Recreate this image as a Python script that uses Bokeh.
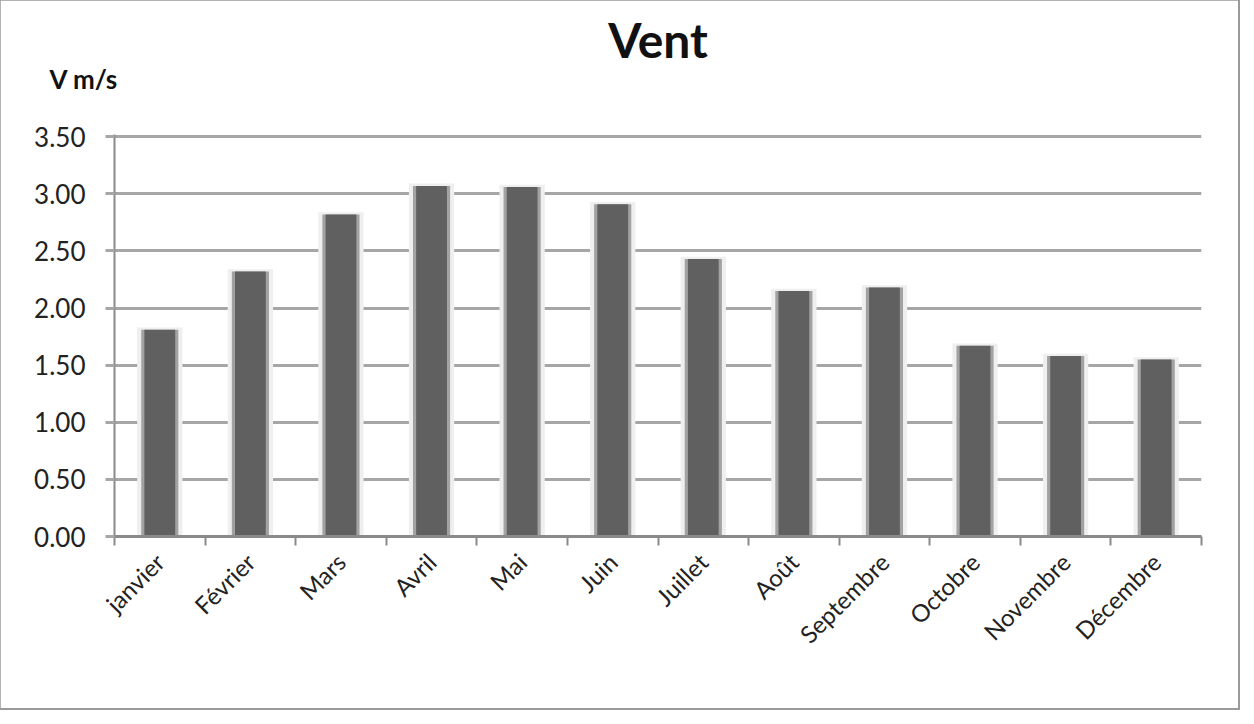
import math
from bokeh.plotting import figure
from bokeh.models import Range1d, FixedTicker, Title, ColumnDataSource
from bokeh.embed import file_html
from bokeh.resources import INLINE

months = ["janvier", "Février", "Mars", "Avril", "Mai", "Juin", "Juillet",
          "Août", "Septembre", "Octobre", "Novembre", "Décembre"]
wind = [1.81, 2.32, 2.82, 3.07, 3.06, 2.91, 2.43, 2.15, 2.18, 1.67, 1.58, 1.55]
y_ticks = [0.0, 0.5, 1.0, 1.5, 2.0, 2.5, 3.0, 3.5]

FONT = "Lato"
xs = [i + 0.5 for i in range(len(months))]
src = ColumnDataSource(dict(x=xs, top=wind, top_halo=[v + 0.02 for v in wind]))

p = figure(width=1238, height=708, output_backend="svg", toolbar_location=None,
           x_range=Range1d(0, len(months)), y_range=Range1d(0, 3.52),
           min_border_left=114, min_border_right=37, min_border_top=134,
           min_border_bottom=172)
p.outline_line_color = None
p.background_fill_color = "white"
p.border_fill_color = "white"
p.styles = {"outline": "3px solid #9a9a9a", "outline-offset": "-1px"}

# bars with soft shadow
p.vbar(x="x", top="top_halo", bottom=-0.03, width=0.50, source=src,
       fill_color="#efefef", line_color=None)
p.vbar(x="x", top="top", bottom=0, width=0.41, source=src,
       fill_color="#a2a2a2", line_color=None)
p.vbar(x="x", top="top", bottom=0, width=0.34, source=src,
       fill_color="#606060", line_color=None)

# grid
p.xgrid.visible = False
p.ygrid.ticker = FixedTicker(ticks=y_ticks)
p.ygrid.grid_line_color = "#a6a6a6"
p.ygrid.grid_line_width = 3
p.ygrid.level = "underlay"

# y axis
p.yaxis.ticker = FixedTicker(ticks=y_ticks)
p.yaxis.major_label_overrides = {t: f"{t:.2f}" for t in y_ticks}
p.yaxis.axis_line_color = "#8a8a8a"
p.yaxis.axis_line_width = 2
p.yaxis.major_tick_line_color = "#a6a6a6"
p.yaxis.major_tick_line_width = 3
p.yaxis.major_tick_out = 9
p.yaxis.major_tick_in = 0
p.yaxis.minor_tick_line_color = None
p.yaxis.major_label_standoff = 20
p.yaxis.major_label_text_font = FONT
p.yaxis.major_label_text_font_size = "26px"
p.yaxis.major_label_text_color = "#222222"

# x axis
p.xaxis.ticker = FixedTicker(ticks=xs, minor_ticks=list(range(len(months) + 1)))
p.xaxis.major_label_overrides = {x: m for x, m in zip(xs, months)}
p.xaxis.major_label_orientation = math.pi / 4
p.xaxis.axis_line_color = "#8a8a8a"
p.xaxis.axis_line_width = 3
p.xaxis.major_tick_line_color = None
p.xaxis.minor_tick_line_color = "#8a8a8a"
p.xaxis.minor_tick_line_width = 2
p.xaxis.minor_tick_out = 9
p.xaxis.minor_tick_in = 0
p.xaxis.major_label_standoff = 12
p.xaxis.major_label_text_font = FONT
p.xaxis.major_label_text_font_size = "24px"
p.xaxis.major_label_text_color = "#222222"

# unit label (nearest the frame) and main title (outermost)
p.add_layout(Title(text="V m/s", align="left", offset=-65, standoff=80,
                   text_font=FONT, text_font_size="26px", text_font_style="bold",
                   text_color="#111111"), "above")
p.title = Title(text="Vent", align="center", offset=-37, standoff=-95,
                padding=(0, 0, 15, 0),
                text_font=FONT, text_font_size="48px", text_font_style="bold",
                text_color="#111111")

open("out.html", "w").write(file_html(p, INLINE))
